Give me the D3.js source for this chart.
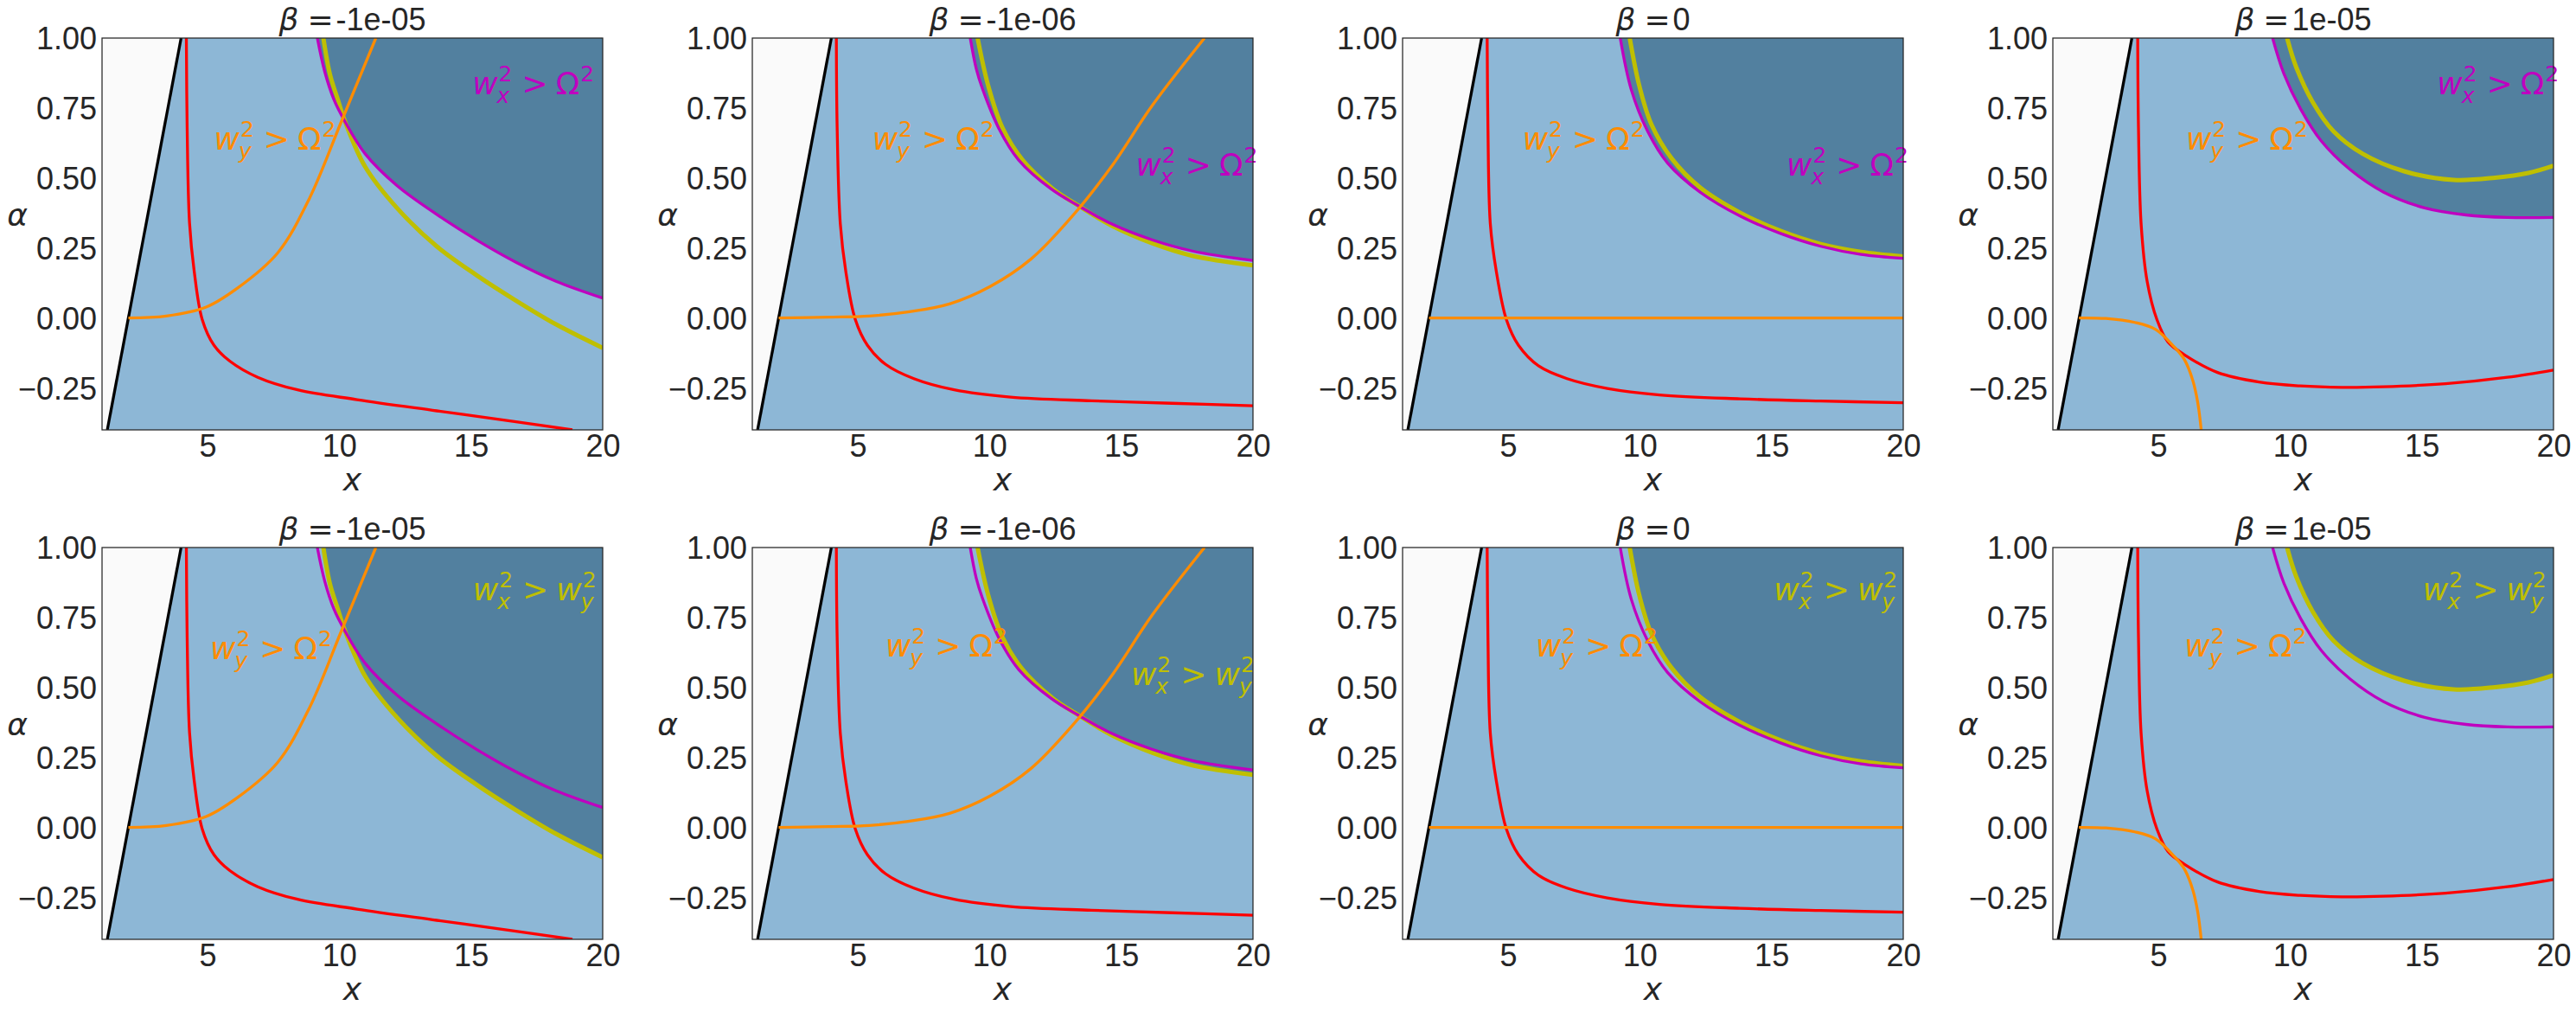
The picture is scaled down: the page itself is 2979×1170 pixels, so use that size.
<!DOCTYPE html>
<html>
<head>
<meta charset="utf-8">
<script src="https://cdn.jsdelivr.net/npm/d3@7"></script>
<style>
  body { margin: 0; background: #fff; }
  text { white-space: pre; }
</style>
</head>
<body>
<svg id="chart" width="2979" height="1170"></svg>
<script>
// ---- data ----
var betaLabels = ["-1e-05", "-1e-06", "0", "1e-05"];
var xTicks = [5, 10, 15, 20];
var yTicks = [-0.25, 0, 0.25, 0.5, 0.75, 1];
var xDomain = [1, 20];
var yDomain = [-0.4, 1];

// black boundary, same in every panel
var edgeLine = [[1.2, -0.4], [4, 1]];

var redCurves = [
  [[4.20, 1.0], [4.23, 0.68], [4.32, 0.34], [4.50, 0.165], [4.80, -0.005], [5.25, -0.098], [5.86, -0.155],
   [6.91, -0.212], [8.42, -0.257], [10.68, -0.292], [13.70, -0.332], [16.71, -0.371], [18.85, -0.40]],
  [[4.19, 1.0], [4.22, 0.68], [4.34, 0.336], [4.55, 0.165], [4.91, -0.006], [5.37, -0.098], [6.06, -0.166],
   [7.13, -0.217], [8.66, -0.257], [10.80, -0.283], [13.87, -0.296], [16.93, -0.305], [20, -0.314]],
  [[4.21, 1.0], [4.24, 0.678], [4.33, 0.336], [4.56, 0.165], [4.94, -0.006], [5.40, -0.098], [6.17, -0.172],
   [7.24, -0.217], [8.77, -0.252], [10.75, -0.275], [13.81, -0.289], [16.87, -0.297], [20, -0.303]],
  [[4.22, 1.0], [4.25, 0.678], [4.35, 0.336], [4.58, 0.13], [4.95, -0.006], [5.37, -0.086], [6.0, -0.132],
   [7.25, -0.195], [8.82, -0.229], [10.39, -0.243], [11.97, -0.248], [13.54, -0.246], [15.9, -0.235],
   [18.25, -0.212], [20, -0.186]]
];

var orangeCurves = [
  [[2.0, 0.0], [3.44, 0.007], [4.95, 0.039], [6.16, 0.108], [7.67, 0.233], [8.87, 0.427], [10.08, 0.701], [11.39, 1.0]],
  [[2.0, 0.0], [3.91, 0.003], [5.44, 0.007], [6.97, 0.022], [8.51, 0.051], [10.04, 0.113], [11.57, 0.21],
   [13.10, 0.359], [14.63, 0.541], [16.17, 0.758], [18.16, 1.0]],
  [[2.0, 0.0], [20, 0.0]],
  [[1.99, 0.0], [3.01, -0.002], [4.11, -0.016], [4.9, -0.041], [5.6, -0.103], [6.0, -0.15], [6.31, -0.223],
   [6.5, -0.303], [6.63, -0.4]]
];

var magentaCurves = [
  [[9.17, 1.0], [9.45, 0.88], [9.8, 0.78], [10.2, 0.705], [10.98, 0.587], [12.19, 0.473], [13.7, 0.37],
   [15.21, 0.279], [16.71, 0.199], [18.23, 0.131], [20, 0.071]],
  [[9.27, 1.0], [9.5, 0.89], [9.73, 0.82], [10.35, 0.678], [11.11, 0.564], [12.34, 0.461], [13.41, 0.399],
   [14.63, 0.336], [16.17, 0.279], [17.70, 0.239], [20, 0.205]],
  [[9.26, 1.0], [9.68, 0.815], [10.30, 0.667], [11.06, 0.553], [12.28, 0.45], [13.81, 0.364], [15.34, 0.302],
   [16.87, 0.256], [18.40, 0.227], [20, 0.213]],
  [[9.34, 1.0], [9.77, 0.872], [10.4, 0.747], [11.18, 0.633], [12.28, 0.53], [13.54, 0.45], [15.11, 0.393],
   [16.68, 0.368], [18.25, 0.359], [20, 0.359]]
];

var yellowCurves = [
  [[9.4, 1.0], [9.65, 0.87], [9.95, 0.78], [10.23, 0.70], [10.98, 0.541], [12.19, 0.393], [13.7, 0.256],
   [15.21, 0.153], [16.71, 0.062], [18.23, -0.023], [20, -0.107]],
  [[9.55, 1.0], [9.96, 0.827], [10.5, 0.678], [11.26, 0.564], [12.41, 0.461], [13.41, 0.399], [14.63, 0.33],
   [16.17, 0.267], [17.7, 0.222], [20, 0.188]],
  [[9.62, 1.0], [9.99, 0.827], [10.45, 0.69], [11.21, 0.57], [12.28, 0.467], [13.81, 0.376], [15.34, 0.311],
   [16.87, 0.264], [18.4, 0.236], [20, 0.220]],
  [[9.89, 1.0], [10.24, 0.895], [10.87, 0.77], [11.65, 0.667], [12.75, 0.587], [14.33, 0.524], [16.21, 0.493],
   [17.78, 0.501], [19.04, 0.518], [20, 0.544]]
];

// annotation anchors (start of text, baseline) in data units, per row
var orangeLabelAt = [
  [[5.25, 0.60], [5.55, 0.60], [5.55, 0.60], [6.05, 0.60]],
  [[5.1, 0.60], [6.05, 0.61], [6.05, 0.61], [6.0, 0.61]]
];
var cornerLabelAt = [
  [[15.05, 0.80], [15.55, 0.51], [15.57, 0.51], [15.58, 0.80]],
  [[15.07, 0.81], [15.37, 0.51], [15.09, 0.81], [15.04, 0.81]]
];

// ---- layout ----
var W = 579, H = 453;
var colLeft = [118, 870, 1622, 2374];
var rowTop = [44, 633];
var ink = "#262626";
var c_gray = "#fafafa", c_light = "#8db7d6", c_dark = "#52809f";
var c_red = "#ff0000", c_orange = "#ff8c00", c_mag = "#bf00bf", c_yel = "#bfbf00";

var wyOmega = [{t: "w", it: 1}, {sub: "y", sup: "2"}, {t: ">", rel: 1}, {t: "\u03a9"}, {sup: "2"}];
var wxOmega = [{t: "w", it: 1}, {sub: "x", sup: "2"}, {t: ">", rel: 1}, {t: "\u03a9"}, {sup: "2"}];
var wxwy = [{t: "w", it: 1}, {sub: "x", sup: "2"}, {t: ">", rel: 1}, {t: "w", it: 1}, {sub: "y", sup: "2"}];

var svg = d3.select("#chart");

function mathLabel(g, x0, y0, parts, color) {
  var t = g.append("g")
    .attr("transform", "translate(" + x0 + "," + y0 + ")")
    .attr("fill", color)
    .style("font-family", "DejaVu Sans");
  var cx = 0;
  parts.forEach(function(p) {
    if (p.rel) cx += 9;
    if (p.t) {
      var n = t.append("text").attr("x", cx)
        .style("font-size", "36px")
        .style("font-style", p.it ? "italic" : "normal")
        .text(p.t);
      cx += n.node().getComputedTextLength();
    }
    if (p.rel) cx += 9;
    if (p.sup || p.sub) {
      var w = 0;
      if (p.sup) {
        var s = t.append("text").attr("x", cx + 1).attr("y", -15).style("font-size", "25px").text(p.sup);
        w = s.node().getComputedTextLength() + 1;
      }
      if (p.sub) {
        var b = t.append("text").attr("x", cx - 1).attr("y", 10).style("font-size", "25px")
          .style("font-style", "italic").text(p.sub);
        w = Math.max(w, b.node().getComputedTextLength());
      }
      cx += w + 2;
    }
  });
}

function panel(r, c) {
  var g = svg.append("g").attr("transform", "translate(" + colLeft[c] + "," + rowTop[r] + ")");
  var x = d3.scaleLinear().domain(xDomain).range([0, W]);
  var y = d3.scaleLinear().domain(yDomain).range([H, 0]);

  var clipId = "clip-" + r + "-" + c;
  g.append("clipPath").attr("id", clipId)
    .append("rect").attr("width", W).attr("height", H);

  var plot = g.append("g").attr("clip-path", "url(#" + clipId + ")");

  var straight = d3.line().x(function(d) { return x(d[0]); }).y(function(d) { return y(d[1]); });
  var smooth = d3.line().x(function(d) { return x(d[0]); }).y(function(d) { return y(d[1]); })
    .curve(d3.curveCatmullRom.alpha(0.5));

  // regions
  plot.append("rect").attr("width", W).attr("height", H).attr("fill", c_light);

  var grayPoly = [[xDomain[0], yDomain[0]]].concat(edgeLine, [[xDomain[0], yDomain[1]]]);
  plot.append("path").attr("d", straight(grayPoly) + "Z").attr("fill", c_gray);

  var bound = r === 0 ? magentaCurves[c] : yellowCurves[c];
  plot.append("path")
    .attr("d", smooth(bound) + "L" + x(xDomain[1]) + "," + y(yDomain[1]) + "Z")
    .attr("fill", c_dark);

  // curves
  function curve(data, color, width, gen) {
    plot.append("path").attr("d", (gen || smooth)(data))
      .attr("fill", "none").attr("stroke", color).attr("stroke-width", width)
      .attr("stroke-linejoin", "round");
  }
  curve(edgeLine, "#000", 3.3, straight);
  curve(yellowCurves[c], c_yel, 5);
  curve(magentaCurves[c], c_mag, 3.3);
  curve(redCurves[c], c_red, 3.3);
  curve(orangeCurves[c], c_orange, 3.3);

  // annotations
  var oa = orangeLabelAt[r][c], ca = cornerLabelAt[r][c];
  mathLabel(g, x(oa[0]), y(oa[1]), wyOmega, c_orange);
  if (r === 0) mathLabel(g, x(ca[0]), y(ca[1]), wxOmega, c_mag);
  else mathLabel(g, x(ca[0]), y(ca[1]), wxwy, c_yel);

  // axes
  var xa = g.append("g").attr("transform", "translate(0," + H + ")")
    .call(d3.axisBottom(x).tickValues(xTicks).tickSize(0).tickPadding(5.5).tickFormat(d3.format("d")));
  var ya = g.append("g")
    .call(d3.axisLeft(y).tickValues(yTicks).tickSize(0).tickPadding(6).tickFormat(d3.format(".2f")));
  [xa, ya].forEach(function(a) {
    a.select(".domain").remove();
    a.selectAll("text").attr("fill", ink)
      .style("font-family", "'Liberation Sans', Arial, sans-serif").style("font-size", "36px");
  });
  ya.selectAll("text").attr("dy", "0.36em");

  // frame
  g.append("rect").attr("width", W).attr("height", H)
    .attr("fill", "none").attr("stroke", ink).attr("stroke-width", 1.25);

  // labels
  g.append("text").attr("x", W / 2).attr("y", H + 70).attr("text-anchor", "middle")
    .attr("fill", ink).style("font-family", "DejaVu Sans").style("font-style", "italic")
    .style("font-size", "36px").text("x");
  g.append("text").attr("x", -98).attr("y", H / 2 - 10).attr("text-anchor", "middle")
    .attr("fill", ink).style("font-family", "DejaVu Sans").style("font-style", "italic")
    .style("font-size", "36px").text("\u03b1");

  var title = g.append("text").attr("x", W / 2).attr("y", -9).attr("text-anchor", "middle")
    .attr("fill", ink).style("font-size", "36px");
  title.append("tspan").style("font-family", "DejaVu Sans").style("font-style", "italic").text("\u03b2");
  title.append("tspan").attr("dx", 10).style("font-family", "DejaVu Sans").text("=");
  title.append("tspan").attr("dx", 3).style("font-family", "'Liberation Sans', Arial, sans-serif")
    .text(betaLabels[c]);
}

for (var r = 0; r < 2; r++) {
  for (var c = 0; c < 4; c++) panel(r, c);
}
</script>
</body>
</html>
